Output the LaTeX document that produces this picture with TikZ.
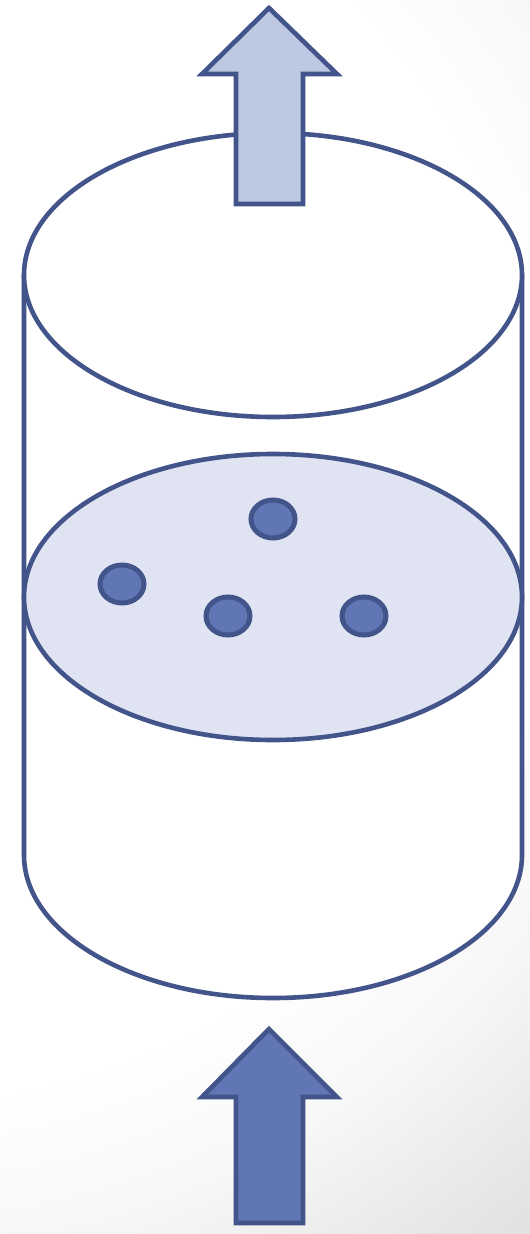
\documentclass[tikz,border=0pt]{standalone}
\usetikzlibrary{shapes.geometric}
\definecolor{edge}{HTML}{42548A}
\definecolor{discfill}{HTML}{E0E4F2}
\definecolor{dotfill}{HTML}{6176B5}
\definecolor{lightarrow}{HTML}{BDC8E2}
\pgfdeclareradialshading{bgshade}{\pgfpoint{0bp}{0bp}}{%
  color(0bp)=(white); color(14.5bp)=(white); color(17.8bp)=(black!3);
  color(22.75bp)=(black!12); color(25bp)=(black!13); color(50bp)=(black!13)}
\tikzset{
  outline/.style={draw=edge, line width=4.6pt},
  bubble/.style={draw=edge, line width=5pt, fill=dotfill},
  bigarrow/.style={draw=edge, line width=4.6pt, line join=miter},
}
\begin{document}
\begin{tikzpicture}[x=1pt,y=-1pt]
\useasboundingbox (0,0) rectangle (530,1234);
% background
\begin{scope}
\clip (0,0) rectangle (530,1234);
\shade[shading=bgshade] (-103,459) circle (1100);
\end{scope}
% cylinder body
\path[fill=white] (24,275) -- (24,855) arc[start angle=180, end angle=0, x radius=249, y radius=143] -- (522,275) -- cycle;
\draw[outline] (24,275) -- (24,855) arc[start angle=180, end angle=0, x radius=249, y radius=143] -- (522,275);
% top ellipse
\draw[outline, fill=white] (273,275) ellipse[x radius=249, y radius=142];
% middle disc
\draw[outline, fill=discfill] (273,597) ellipse[x radius=249, y radius=143];
% bubbles
\draw[bubble] (273,519) ellipse[x radius=22, y radius=19];
\draw[bubble] (122,584) ellipse[x radius=22, y radius=19];
\draw[bubble] (228,616) ellipse[x radius=22, y radius=19];
\draw[bubble] (364,616) ellipse[x radius=22, y radius=19];
% top arrow
\draw[bigarrow, fill=lightarrow] (269,8) -- (337,74) -- (303,74) -- (303,204) -- (236,204) -- (236,74) -- (202,74) -- cycle;
% bottom arrow
\draw[bigarrow, fill=dotfill] (269,1029) -- (337,1097) -- (303,1097) -- (303,1223) -- (236,1223) -- (236,1097) -- (202,1097) -- cycle;
\end{tikzpicture}
\end{document}
